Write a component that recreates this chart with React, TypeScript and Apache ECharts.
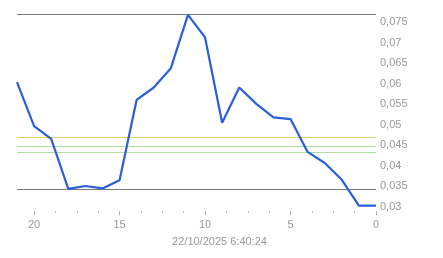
import React, { useEffect, useRef } from "react";
import * as echarts from "echarts";

const xValues = [21, 20, 19, 18, 17, 16, 15, 14, 13, 12, 11, 10, 9, 8, 7, 6, 5, 4, 3, 2, 1, 0];
const yValues = [0.0601, 0.0494, 0.0463, 0.0341, 0.0348, 0.0342, 0.0362, 0.0558, 0.0588, 0.0635, 0.0765, 0.0710, 0.0502, 0.0588, 0.0548, 0.0515, 0.0511, 0.0431, 0.0404, 0.0363, 0.0300, 0.0300];
const xTickLabels = [0, 5, 10, 15, 20];
const darkLines = [0.0766, 0.0340];
const yellowLines = [0.04667];
const greenLines = [0.04447, 0.04308];
const timestamp = "22/10/2025 6:40:24";

export default function App() {
  const ref = useRef<HTMLDivElement>(null);
  useEffect(() => {
    if (!ref.current) return;
    const chart = echarts.init(ref.current, null, { renderer: "svg" });
    const font = "Liberation Sans, Arial, sans-serif";
    chart.setOption({
      animation: false,
      grid: { left: 17, right: 67, top: 0.5, bottom: 31.8, containLabel: false },
      xAxis: {
        type: "value",
        min: 0,
        max: 21,
        interval: 5,
        inverse: true,
        offset: -15,
        axisLine: { show: false },
        axisTick: { show: true, length: 4, lineStyle: { color: "#aaa" }, customValues: xTickLabels },
        minorTick: { show: true, splitNumber: 4, length: 2, lineStyle: { color: "#bbb" } },
        splitLine: { show: false },
        axisLabel: {
          color: "#999",
          fontSize: 11,
          fontFamily: font,
          margin: 7,
          customValues: xTickLabels,
        },
      },
      yAxis: {
        type: "value",
        position: "right",
        min: 0.025,
        max: 0.08,
        interval: 0.005,
        axisLine: { show: false },
        axisTick: { show: false },
        splitLine: { show: false },
        axisLabel: {
          color: "#999",
          fontSize: 11,
          fontFamily: font,
          margin: 4,
          formatter: (v: number) => {
            const r = +v.toFixed(3);
            if (r < 0.0299 || r > 0.0751) return "";
            return String(r).replace(".", ",");
          },
        },
      },
      graphic: [
        {
          type: "text",
          x: 219.5,
          y: 241,
          style: {
            text: timestamp,
            fill: "#999",
            font: `11px ${font}`,
            textAlign: "center",
            textVerticalAlign: "middle",
          },
        },
      ],
      series: [
        {
          type: "line",
          data: xValues.map((x, i) => [x, yValues[i]]),
          showSymbol: false,
          lineStyle: { color: "#2b5fd9", width: 2.2 },
          z: 5,
          markLine: {
            silent: true,
            symbol: "none",
            precision: 6,
            label: { show: false },
            animation: false,
            data: [
              ...darkLines.map((v) => ({ yAxis: v, lineStyle: { color: "#777", width: 1, type: "solid" } })),
              ...yellowLines.map((v) => ({ yAxis: v, lineStyle: { color: "#e3cd6c", width: 1, type: "solid" } })),
              ...greenLines.map((v) => ({ yAxis: v, lineStyle: { color: "#b2dc9c", width: 1, type: "solid" } })),
            ],
          },
        },
      ],
    });
    return () => chart.dispose();
  }, []);
  return <div ref={ref} style={{ position: "fixed", left: 0, top: 0, width: 443, height: 258 }} />;
}
